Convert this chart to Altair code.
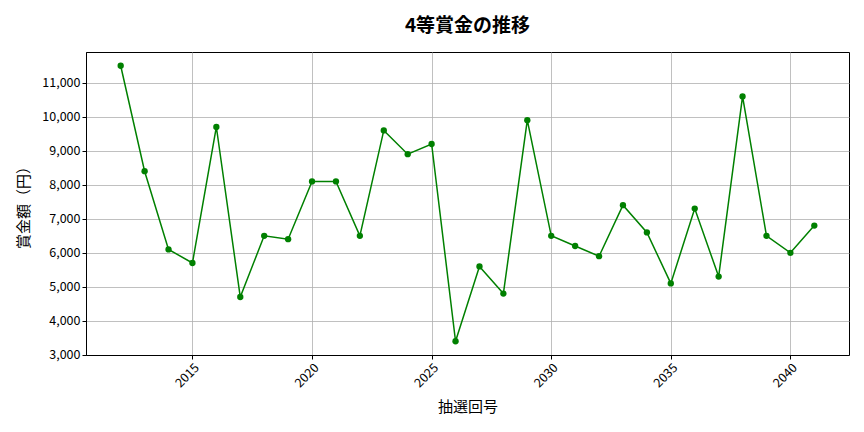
import altair as alt
import pandas as pd

years = list(range(2012, 2042))
prize = [11500, 8400, 6100, 5700, 9700, 4700, 6500, 6400, 8100, 8100,
         6500, 9600, 8900, 9200, 3400, 5600, 4800, 9900, 6500, 6200,
         5900, 7400, 6600, 5100, 7300, 5300, 10600, 6500, 6000, 6800]
x_ticks = [2015, 2020, 2025, 2030, 2035, 2040]
y_ticks = [3000, 4000, 5000, 6000, 7000, 8000, 9000, 10000, 11000]

font = "Noto Sans CJK JP"
df = pd.DataFrame({"year": years, "prize": prize})

x_enc = alt.X(
    "year:Q",
    title="抽選回号",
    scale=alt.Scale(domain=[2010.55, 2042.45], nice=False, zero=False),
    axis=alt.Axis(values=x_ticks, format="d", labelAngle=-45, titlePadding=10),
)
y_enc = alt.Y(
    "prize:Q",
    title="賞金額（円）",
    scale=alt.Scale(domain=[2995, 11905], nice=False, zero=False),
    axis=alt.Axis(values=y_ticks, format=",d", titlePadding=10),
)

line = alt.Chart(df).mark_line(color="#008000", strokeWidth=1.5).encode(x=x_enc, y=y_enc)
points = alt.Chart(df).mark_circle(color="#008000", size=40, opacity=1).encode(x=x_enc, y=y_enc)

chart = (
    (line + points)
    .properties(
        width=763,
        height=303,
        autosize=alt.AutoSizeParams(type="none"),
        padding={"left": 78, "top": 44, "right": 7, "bottom": 69},
        title=alt.TitleParams("4等賞金の推移", fontSize=19, fontWeight="bold",
                              font=font, anchor="middle", offset=16, color="black"),
    )
    .configure_view(stroke="black", strokeWidth=1)
    .configure_axis(
        labelFont=font,
        titleFont=font,
        labelFontSize=12.5,
        titleFontSize=15,
        titleFontWeight="normal",
        labelColor="black",
        titleColor="black",
        domainColor="black",
        tickColor="black",
        tickSize=4,
        gridColor="#b0b0b0",
        gridWidth=0.8,
    )
)

chart.save("out.html", embed_options={"renderer": "svg", "actions": False})
